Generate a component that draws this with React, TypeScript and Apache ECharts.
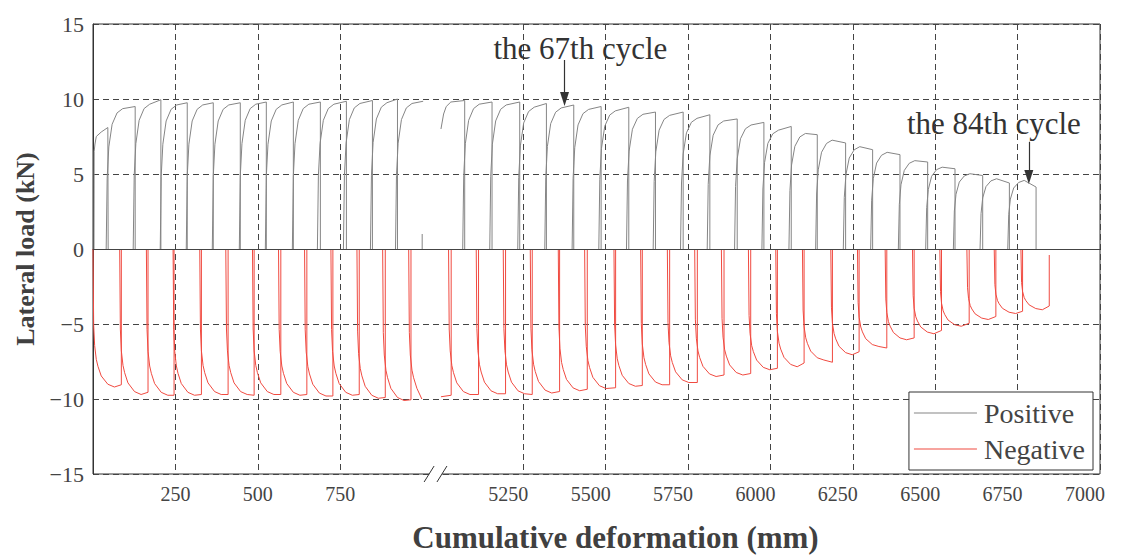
import React, { useEffect, useRef } from "react";
import * as echarts from "echarts";

// ---- axis break: real mm above 3000 are shifted left by this amount ----
const BREAK_SHIFT = 3944;
const X_MAX = 7000;
const toD = (x: number) => (x > 3000 ? x - BREAK_SHIFT : x);
const fromD = (d: number) => (d > 1100 ? d + BREAK_SHIFT : d);

const xTicksLeft = [250, 500, 750];
const xTicksRight = [5250, 5500, 5750, 6000, 6250, 6500, 6750, 7000];
const yMin = -15;
const yMax = 15;
const yStep = 5;

// ---- shape of a half cycle (mm after start, share of plateau) ----
const riseMm = [0, 3, 8, 18, 33, 50];
const riseFrac = [0, 0.5, 0.72, 0.88, 0.96, 0.99];
const fallMm = [0, 2, 5, 10, 15, 25, 45, 65];
const fallFrac = [0, 0.55, 0.7, 0.8, 0.85, 0.92, 0.98, 1.0];

// ---- positive half cycles ----
const posStart = [40, 122, 204, 283, 362, 444, 523, 605, 681, 760, 842, 918,
  5066, 5148, 5233, 5315, 5398, 5479, 5563, 5644, 5727, 5808, 5891, 5974, 6056, 6137, 6221, 6304, 6388, 6471, 6555, 6636, 6720];
const posEnd = [128, 206, 286, 365, 447, 526, 608, 690, 769, 848, 924, 1002,
  5155, 5239, 5320, 5403, 5486, 5570, 5651, 5735, 5816, 5899, 5980, 6063, 6142, 6228, 6310, 6393, 6477, 6560, 6644, 6725, 6806];
const posPlateau = [9.45, 9.75, 9.7, 9.7, 9.7, 9.75, 9.7, 9.75, 9.75, 9.8, 9.85, 9.8,
  9.75, 9.7, 9.55, 9.5, 9.4, 9.3, 9.07, 9.0, 8.8, 8.62, 8.35, 8.0, 7.78, 7.33, 6.89, 6.51, 5.95, 5.51, 5.07, 4.73, 4.62];
const posLast = [9.5, 9.95, 9.75, 9.75, 9.75, 9.8, 9.8, 9.8, 9.85, 9.9, 10.0, 9.85,
  9.8, 9.8, 9.7, 9.6, 9.5, 9.45, 9.13, 9.13, 8.95, 8.67, 8.44, 8.17, 7.62, 7.07, 6.62, 6.29, 5.8, 5.35, 4.9, 4.4, 4.13];
const posEndLoad: (number | null)[] = [0, 0, 0, 0, 0, 0, 0, 0, 0, 0, 0, null,
  0, 0, 0, 0, 0, 0, 0, 0, 0, 0, 0, 0, 0, 0, 0, 0, 0, 0, 0, 0, 0];
const posExtra: number[][][] = [
  [[3, 0], [3.5, 6.5], [6, 7.0], [10, 7.5], [25, 7.8], [45, 8.1], [46, 0]],
  [[999, 0], [999, 1.0]],
  [[5000, 8.0], [5008, 9.0], [5016, 9.5], [5030, 9.8], [5072, 9.9], [5072, 0]],
];

// ---- negative half cycles ----
const negStart = [0, 81, 162, 243, 324, 403, 484, 563, 642, 722, 801, 879, 958,
  5023, 5107, 5189, 5271, 5356, 5436, 5525, 5606, 5687, 5770, 5851, 5933, 6016, 6097, 6183, 6264, 6348, 6431, 6514, 6596, 6679, 6760];
const negEnd = [86, 167, 246, 329, 410, 489, 570, 649, 728, 808, 887, 965, 998,
  5114, 5196, 5277, 5360, 5444, 5530, 5611, 5694, 5778, 5859, 5940, 6021, 6102, 6188, 6269, 6353, 6436, 6519, 6603, 6684, 6765, 6846];
const negPlateau = [-9.2, -9.7, -9.75, -9.75, -9.7, -9.7, -9.7, -9.75, -9.8, -9.75, -9.95, -10.1, -10.1,
  -9.7, -9.65, -9.65, -9.6, -9.45, -9.3, -9.15, -9.05, -8.9, -8.5, -8.4, -8.05, -7.85, -7.4, -7.05, -6.5, -6.05, -5.65, -5.15, -4.7, -4.3, -4.05];
const negLast = [-9.05, -9.55, -9.75, -9.7, -9.7, -9.75, -9.7, -9.7, -9.8, -9.7, -9.9, -10.05, -10.0,
  -9.7, -9.65, -9.7, -9.5, -9.35, -9.25, -9.1, -9.05, -8.9, -8.4, -8.3, -7.95, -7.6, -7.55, -6.85, -6.6, -5.93, -5.43, -4.95, -4.5, -4.15, -3.8];
const negEndLoad: (number | null)[] = [0, 0, 0, 0, 0, 0, 0, 0, 0, 0, 0, 0, null,
  0, 0, 0, 0, 0, 0, 0, 0, 0, 0, 0, 0, 0, 0, 0, 0, 0, 0, 0, 0, 0, -0.4];
const negExtra: number[][][] = [
  [[5000, -9.85], [5031, -9.75], [5031, 0]],
];

// ---- annotations (mm, kN) ----
const note67 = { text: "the 67th cycle", textX: 5423, textY: 13.4, arrowX: 5375, arrowFrom: 12.6, arrowTo: 10.0 };
const note84 = { text: "the 84th cycle", textX: 6678, textY: 8.4, arrowX: 6784, arrowFrom: 7.15, arrowTo: 4.8 };

function build(starts: number[], ends: number[], plateau: number[], last: number[], endLoad: (number | null)[],
  tplMm: number[], tplFrac: number[], extra: number[][][]) {
  const out: any[] = [];
  extra.forEach((seg) => {
    seg.forEach((p) => out.push([toD(p[0]), p[1]]));
    out.push([toD(seg[seg.length - 1][0]), "-"]);
  });
  starts.forEach((s, i) => {
    const e = ends[i];
    tplMm.forEach((m, k) => {
      if (s + m < e) out.push([toD(s + m), plateau[i] * tplFrac[k]]);
    });
    out.push([toD(e), last[i]]);
    if (endLoad[i] !== null) out.push([toD(e), endLoad[i]]);
    out.push([toD(e), "-"]);
  });
  return out;
}

const FONT = "Liberation Serif";

export default function App() {
  const ref = useRef<HTMLDivElement>(null);
  useEffect(() => {
    if (!ref.current) return;
    const chart = echarts.init(ref.current, undefined, { renderer: "svg" });
    const tickVals = [...xTicksLeft, ...xTicksRight].map(toD);
    const posData = build(posStart, posEnd, posPlateau, posLast, posEndLoad, riseMm, riseFrac, posExtra);
    const negData = build(negStart, negEnd, negPlateau, negLast, negEndLoad, fallMm, fallFrac, negExtra);
    const arrow = (n: typeof note67) => [
      { coord: [toD(n.arrowX), n.arrowFrom], symbol: "none" },
      { coord: [toD(n.arrowX), n.arrowTo], symbol: "triangle", symbolSize: [9, 14] },
    ];
    chart.setOption({
      animation: false,
      grid: {
        left: 93, right: 34, top: 24, bottom: 82,
        outerBoundsMode: "none",
        containLabel: false,
        show: true, borderColor: "#333", borderWidth: 1, backgroundColor: "transparent",
      },
      legend: {
        orient: "vertical",
        right: 41,
        bottom: 86,
        backgroundColor: "#fff",
        borderColor: "#333",
        borderWidth: 1,
        padding: [7, 8, 7, 5],
        itemGap: 8,
        itemWidth: 63,
        itemHeight: 1,
        icon: "rect",
        textStyle: { fontFamily: FONT, fontSize: 28, color: "#444", padding: [0, 0, 0, 2] },
        data: ["Positive", "Negative"],
      },
      xAxis: {
        type: "value",
        min: 0,
        max: toD(X_MAX),
        name: "Cumulative deformation (mm)",
        nameLocation: "middle",
        nameGap: 48,
        nameTextStyle: { fontFamily: FONT, fontSize: 31, lineHeight: 31, fontWeight: "bold", color: "#404040", padding: [0, 0, 0, 38] },
        axisLine: { show: true, lineStyle: { color: "#333", width: 1 } },
        axisTick: { show: false, customValues: tickVals },
        axisLabel: {
          customValues: tickVals,
          margin: 10,
          fontFamily: FONT,
          fontSize: 20,
          color: "#444",
          formatter: (v: number) => {
            const real = Math.round(fromD(v));
            return real > 3000 ? `{r|${real}}` : `{l|${real}}`;
          },
          rich: {
            l: { fontFamily: FONT, fontSize: 20, color: "#444" },
            r: { fontFamily: FONT, fontSize: 20, color: "#444", padding: [0, 30, 0, 0] },
          },
        },
        splitLine: { show: true, lineStyle: { color: "#444", type: [6, 4], width: 1 } },
      },
      yAxis: {
        type: "value",
        min: yMin,
        max: yMax,
        interval: yStep,
        name: "Lateral load (kN)",
        nameLocation: "middle",
        nameGap: 52,
        nameTextStyle: { fontFamily: FONT, fontSize: 26, fontWeight: "bold", color: "#404040" },
        axisLine: { show: true, lineStyle: { color: "#333", width: 1 } },
        axisTick: { show: false },
        axisLabel: {
          margin: 9,
          fontFamily: FONT,
          fontSize: 22,
          color: "#444",
          formatter: (v: number) => String(v).replace("-", "\u2212"),
        },
        splitLine: { show: true, lineStyle: { color: "#444", type: [6, 4], width: 1 } },
      },
      series: [
        {
          name: "Positive",
          type: "line",
          data: posData,
          symbol: "none",
          showSymbol: false,
          connectNulls: false,
          color: "#858585",
          lineStyle: { color: "#858585", width: 1 },
          z: 3,
          markLine: {
            silent: true,
            symbol: "none",
            label: { show: false },
            lineStyle: { color: "#444", type: "solid", width: 1 },
            data: [{ yAxis: 0 }],
          },
        },
        {
          name: "Negative",
          type: "line",
          data: negData,
          symbol: "none",
          showSymbol: false,
          connectNulls: false,
          color: "#f04a40",
          lineStyle: { color: "#f04a40", width: 1 },
          z: 2,
          markLine: {
            silent: true,
            label: { show: false },
            lineStyle: { color: "#333", type: "solid", width: 1.2 },
            itemStyle: { color: "#333" },
            data: [arrow(note67), arrow(note84)],
          },
        },
      ],
    });

    const px = (x: number, y: number) => chart.convertToPixel({ gridIndex: 0 }, [x, y]) as number[];
    const t67 = px(toD(note67.textX), note67.textY);
    const t84 = px(toD(note84.textX), note84.textY);
    const b1 = px(1020, yMin);
    const b2 = px(1059, yMin);
    chart.setOption({
      graphic: [
        { type: "text", x: t67[0], y: t67[1], style: { text: note67.text, font: `31px "${FONT}"`, fill: "#333", align: "center", verticalAlign: "middle" } },
        { type: "text", x: t84[0], y: t84[1], style: { text: note84.text, font: `31px "${FONT}"`, fill: "#333", align: "center", verticalAlign: "middle" } },
        { type: "rect", shape: { x: b1[0], y: b1[1] - 2, width: b2[0] - b1[0], height: 4 }, style: { fill: "#fff" }, z: 100 },
        { type: "line", shape: { x1: b1[0] - 5, y1: b1[1] + 8, x2: b1[0] + 5, y2: b1[1] - 8 }, style: { stroke: "#333", lineWidth: 1 }, z: 101 },
        { type: "line", shape: { x1: b2[0] - 5, y1: b2[1] + 8, x2: b2[0] + 5, y2: b2[1] - 8 }, style: { stroke: "#333", lineWidth: 1 }, z: 101 },
      ],
    });
    return () => chart.dispose();
  }, []);
  return <div ref={ref} style={{ width: 1134, height: 556, position: "absolute", left: 0, top: 0 }} />;
}
